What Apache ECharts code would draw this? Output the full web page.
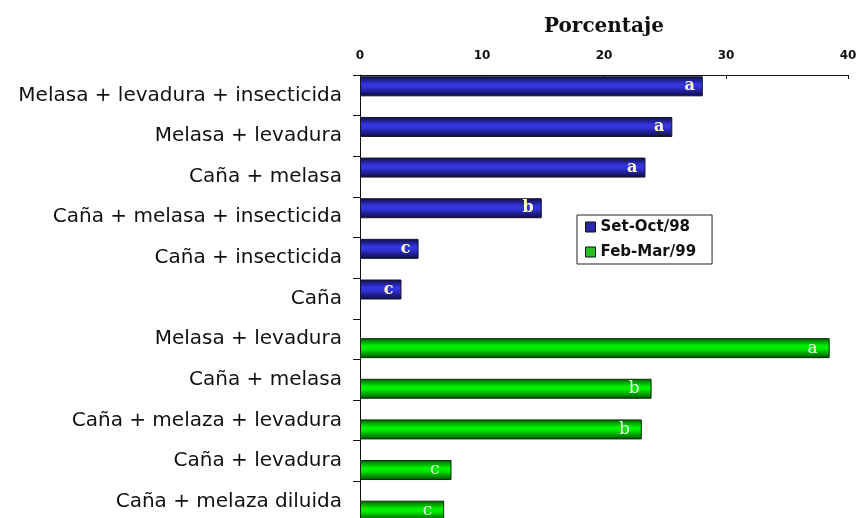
<!DOCTYPE html>
<html>
<head>
<meta charset="utf-8">
<script src="https://cdn.jsdelivr.net/npm/echarts@6/dist/echarts.min.js"></script>
<style>
html,body{margin:0;padding:0;background:#fff;}
#chart{width:857px;height:518px;}
</style>
</head>
<body>
<div id="chart"></div>
<script>
const categories = [
  'Melasa + levadura + insecticida',
  'Melasa + levadura',
  'Caña + melasa',
  'Caña + melasa + insecticida',
  'Caña + insecticida',
  'Caña',
  'Melasa + levadura',
  'Caña + melasa',
  'Caña + melaza + levadura',
  'Caña + levadura',
  'Caña + melaza diluida'
];
const setOctValues = [28.1, 25.6, 23.4, 14.9, 4.8, 3.4, null, null, null, null, null];
const febMarValues = [null, null, null, null, null, null, 38.5, 23.9, 23.1, 7.5, 6.9];
const setOctLetters = ['a', 'a', 'a', 'b', 'c', 'c', '', '', '', '', ''];
const febMarLetters = ['', '', '', '', '', '', 'a', 'b', 'b', 'c', 'c'];
const xTicks = [0, 10, 20, 30, 40];

const blueGrad = new echarts.graphic.LinearGradient(0, 0, 0, 1, [
  {offset: 0, color: '#0d0d45'},
  {offset: 0.4, color: '#3636e4'},
  {offset: 0.55, color: '#3232d8'},
  {offset: 1, color: '#0b0b40'}
]);
const greenGrad = new echarts.graphic.LinearGradient(0, 0, 0, 1, [
  {offset: 0, color: '#005a00'},
  {offset: 0.4, color: '#00f400'},
  {offset: 0.55, color: '#00e800'},
  {offset: 1, color: '#004f00'}
]);

function mk(values, letters) {
  return values.map((v, i) => v == null ? '-' : {value: v, letter: letters[i]});
}

const chart = echarts.init(document.getElementById('chart'), null, {renderer: 'canvas'});
chart.setOption({
  backgroundColor: '#ffffff',
  animation: false,
  title: {
    text: 'Porcentaje',
    left: 599,
    top: 12,
    textAlign: 'center',
    textStyle: {fontFamily: 'DejaVu Serif', fontWeight: 'bold', fontSize: 20, color: '#111'}
  },
  legend: {
    orient: 'vertical',
    left: 577,
    top: 215,
    padding: [4, 16, 4, 8],
    itemWidth: 10,
    itemHeight: 10,
    itemGap: 9,
    borderColor: '#222',
    borderWidth: 1,
    backgroundColor: '#fff',
    icon: 'rect',
    textStyle: {fontFamily: 'DejaVu Sans', fontWeight: 'bold', fontSize: 15, lineHeight: 16, color: '#111'},
    data: [
      {name: 'Set-Oct/98', itemStyle: {color: '#2a2aa8', borderColor: '#111', borderWidth: 1}},
      {name: 'Feb-Mar/99', itemStyle: {color: '#22c022', borderColor: '#111', borderWidth: 1}}
    ]
  },
  grid: {left: 360, right: 9, top: 75, height: 447, containLabel: false, outerBoundsMode: 'none'},
  xAxis: {
    type: 'value',
    position: 'top',
    min: xTicks[0],
    max: xTicks[xTicks.length - 1],
    interval: 10,
    axisLine: {show: true, lineStyle: {color: '#111', width: 1}},
    axisTick: {show: true, inside: true, length: 4, lineStyle: {color: '#111'}},
    splitLine: {show: false},
    axisLabel: {margin: 13, fontFamily: 'DejaVu Sans', fontWeight: 'bold', fontSize: 12, color: '#111'}
  },
  yAxis: {
    type: 'category',
    inverse: true,
    data: categories,
    axisLine: {show: true, lineStyle: {color: '#111', width: 1}},
    axisTick: {show: true, length: 7, lineStyle: {color: '#111'}},
    axisLabel: {margin: 18, fontFamily: 'DejaVu Sans', fontSize: 20, color: '#111'}
  },
  series: [
    {
      name: 'Set-Oct/98',
      type: 'bar',
      data: mk(setOctValues, setOctLetters),
      barWidth: 20,
      barGap: '-10%',
      itemStyle: {color: blueGrad, borderColor: '#15152a', borderWidth: 1},
      label: {
        show: true,
        position: 'insideRight',
        distance: 8,
        formatter: p => p.data.letter,
        fontFamily: 'DejaVu Serif',
        fontWeight: 'bold',
        fontSize: 16,
        color: '#ffffc8'
      }
    },
    {
      name: 'Feb-Mar/99',
      type: 'bar',
      data: mk(febMarValues, febMarLetters),
      barWidth: 20,
      barGap: '-10%',
      itemStyle: {color: greenGrad, borderColor: '#0d2a0d', borderWidth: 1},
      label: {
        show: true,
        position: 'insideRight',
        distance: 12,
        formatter: p => p.data.letter,
        fontFamily: 'DejaVu Serif',
        fontSize: 17,
        color: '#e4ffe4'
      }
    }
  ]
});
</script>
</body>
</html>
